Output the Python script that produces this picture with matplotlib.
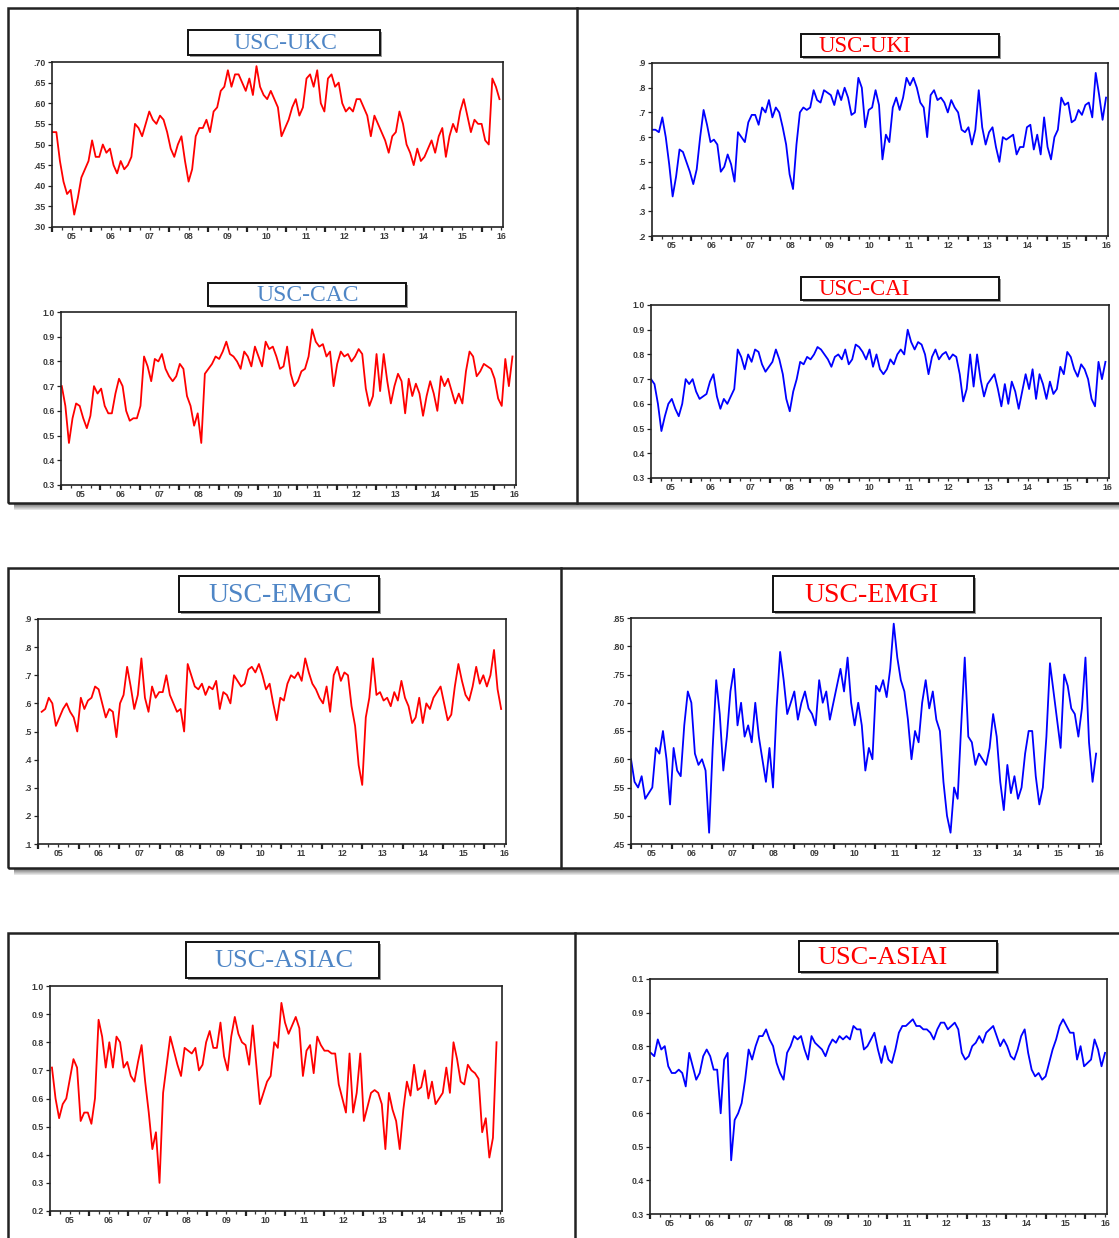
import numpy as np
import matplotlib
matplotlib.use("Agg")
import matplotlib.pyplot as plt
from matplotlib.patches import Rectangle

# 画像サイズ (px)
W, H = 1119, 1238

# ---- 読み取った系列データ (おおよその値) ----
ukc = [.53, .53, .46, .41, .38, .39, .33, .37, .42, .44, .46, .51, .47, .47, .50, .48,
       .49, .45, .43, .46, .44, .45, .47, .55, .54, .52, .55, .58, .56, .55, .57, .56,
       .53, .49, .47, .50, .52, .46, .41, .44, .52, .54, .54, .56, .53, .58, .59, .63,
       .64, .68, .64, .67, .67, .65, .63, .66, .62, .69, .64, .62, .61, .63, .61, .59,
       .52, .54, .56, .59, .61, .57, .59, .66, .67, .64, .68, .60, .58, .66, .67, .64,
       .65, .60, .58, .59, .58, .61, .61, .59, .57, .52, .57, .55, .53, .51, .48, .52,
       .53, .58, .55, .50, .48, .45, .49, .46, .47, .49, .51, .48, .52, .54, .47, .52,
       .55, .53, .58, .61, .57, .53, .56, .55, .55, .51, .50, .66, .64, .61]

uki = [.63, .63, .62, .68, .60, .49, .36, .44, .55, .54, .50, .46, .41, .47, .60, .71,
       .65, .58, .59, .57, .46, .48, .53, .49, .42, .62, .60, .58, .66, .69, .69, .65,
       .72, .70, .75, .68, .72, .70, .64, .57, .45, .39, .57, .70, .72, .71, .72, .79,
       .75, .74, .79, .78, .77, .73, .79, .75, .80, .76, .69, .70, .84, .80, .64, .71,
       .72, .79, .73, .51, .61, .58, .72, .76, .71, .76, .84, .81, .84, .80, .74, .72,
       .60, .77, .79, .75, .76, .74, .70, .75, .72, .70, .63, .62, .64, .57, .63, .79,
       .64, .57, .62, .64, .56, .50, .60, .59, .60, .61, .53, .56, .56, .64, .65, .55,
       .61, .53, .68, .56, .51, .60, .63, .76, .73, .74, .66, .67, .71, .69, .73, .74,
       .68, .86, .77, .67, .76]

cac = [.70, .62, .47, .57, .63, .62, .57, .53, .58, .70, .67, .69, .62, .59, .59, .67,
       .73, .70, .60, .56, .57, .57, .62, .82, .78, .72, .81, .80, .83, .77, .74, .72,
       .74, .79, .77, .66, .62, .54, .59, .47, .75, .77, .79, .82, .81, .84, .88, .83,
       .82, .80, .77, .84, .82, .78, .86, .82, .78, .88, .85, .86, .82, .77, .78, .86,
       .75, .70, .72, .76, .77, .82, .93, .88, .86, .87, .82, .84, .70, .79, .84, .82,
       .83, .80, .82, .85, .83, .69, .62, .66, .83, .68, .83, .72, .63, .70, .75, .72,
       .59, .73, .66, .71, .67, .58, .66, .72, .67, .60, .74, .70, .73, .68, .63, .67,
       .63, .76, .84, .82, .74, .76, .79, .78, .77, .73, .65, .62, .81, .70, .82]

cai = [.70, .68, .60, .49, .55, .60, .62, .58, .55, .60, .70, .68, .70, .65, .62, .63,
       .64, .69, .72, .63, .58, .62, .60, .63, .66, .82, .79, .74, .80, .77, .82, .81,
       .76, .73, .75, .77, .82, .78, .72, .62, .57, .65, .70, .77, .76, .79, .78, .80,
       .83, .82, .80, .78, .75, .79, .80, .78, .82, .76, .78, .84, .83, .81, .78, .82,
       .75, .80, .74, .72, .74, .78, .76, .80, .82, .80, .90, .85, .82, .85, .84, .80,
       .72, .79, .82, .78, .80, .81, .78, .80, .79, .72, .61, .66, .80, .67, .80, .70,
       .63, .68, .70, .72, .66, .59, .68, .60, .69, .65, .58, .65, .72, .66, .74, .62,
       .72, .68, .62, .69, .64, .66, .75, .72, .81, .79, .74, .71, .76, .74, .70, .62,
       .59, .77, .70, .77]

emgc = [.57, .58, .62, .60, .52, .55, .58, .60, .57, .55, .50, .62, .58, .61, .62, .66,
        .65, .60, .55, .58, .57, .48, .60, .63, .73, .66, .58, .63, .76, .62, .57, .66,
        .62, .64, .64, .70, .63, .60, .57, .58, .50, .74, .70, .66, .65, .67, .63, .66,
        .65, .68, .58, .64, .63, .60, .70, .68, .66, .67, .72, .73, .71, .74, .70, .65,
        .67, .60, .54, .62, .61, .67, .70, .69, .71, .68, .76, .71, .67, .65, .62, .60,
        .66, .57, .70, .73, .68, .71, .70, .59, .52, .38, .31, .55, .62, .76, .63, .64,
        .61, .62, .59, .64, .61, .68, .62, .59, .53, .55, .62, .53, .60, .58, .62, .64,
        .66, .60, .54, .56, .66, .74, .68, .63, .61, .66, .73, .67, .70, .66, .70, .79,
        .65, .58]

emgi = [.60, .56, .55, .57, .53, .54, .55, .62, .61, .65, .60, .52, .62, .58, .57, .66,
        .72, .70, .61, .59, .60, .58, .47, .62, .74, .68, .58, .64, .72, .76, .66, .70,
        .64, .66, .63, .70, .64, .60, .56, .62, .55, .69, .79, .74, .68, .70, .72, .67,
        .70, .72, .69, .68, .66, .74, .70, .72, .67, .70, .73, .76, .72, .78, .70, .66,
        .70, .66, .58, .62, .60, .73, .72, .74, .71, .76, .84, .78, .74, .72, .67, .60,
        .65, .63, .70, .74, .69, .72, .67, .65, .56, .50, .47, .55, .53, .66, .78, .64,
        .63, .59, .61, .60, .59, .62, .68, .64, .56, .51, .59, .54, .57, .53, .55, .61,
        .65, .65, .57, .52, .55, .64, .77, .72, .67, .62, .75, .73, .69, .68, .64, .69,
        .78, .63, .56, .61]

asiac = [.71, .60, .53, .58, .60, .67, .74, .71, .52, .55, .55, .51, .60, .88, .82, .71,
         .80, .71, .82, .80, .71, .73, .68, .66, .73, .79, .66, .55, .42, .48, .30, .62,
         .72, .82, .77, .72, .68, .78, .77, .76, .78, .70, .72, .80, .84, .78, .78, .87,
         .75, .70, .82, .89, .83, .80, .79, .72, .86, .72, .58, .62, .66, .68, .80, .78,
         .94, .87, .83, .86, .89, .85, .68, .77, .79, .69, .82, .79, .77, .77, .76, .76,
         .65, .60, .55, .76, .55, .62, .76, .52, .57, .62, .63, .62, .58, .42, .62, .56,
         .52, .42, .56, .66, .61, .72, .63, .64, .70, .60, .66, .58, .60, .62, .71, .62,
         .80, .74, .66, .65, .72, .70, .69, .67, .48, .53, .39, .46, .80]

asiai = [.78, .77, .82, .79, .80, .74, .72, .72, .73, .72, .68, .78, .74, .70, .72, .77,
         .79, .77, .73, .73, .60, .76, .78, .46, .58, .60, .63, .70, .79, .76, .80, .83,
         .83, .85, .82, .80, .75, .72, .70, .78, .80, .83, .82, .83, .79, .76, .83, .81,
         .80, .79, .77, .80, .82, .81, .83, .82, .83, .82, .86, .85, .85, .79, .80, .82,
         .84, .79, .75, .80, .76, .75, .79, .84, .86, .86, .87, .88, .86, .86, .85, .85,
         .84, .82, .85, .87, .87, .85, .86, .87, .85, .78, .76, .77, .80, .81, .83, .81,
         .84, .85, .86, .83, .80, .82, .80, .77, .76, .79, .83, .85, .78, .73, .71, .72,
         .70, .71, .75, .79, .82, .86, .88, .86, .84, .84, .76, .80, .74, .75, .76, .82,
         .79, .74, .78]

# 年ラベル
years = list(range(2005, 2017))
year_labels = ['05', '06', '07', '08', '09', '10', '11', '12', '13', '14', '15', '16']
XMIN, XMAX = 2005.0, 2016.55

# 縦軸の目盛り
ukc_ticks = [.30, .35, .40, .45, .50, .55, .60, .65, .70]
ukc_labels = ['.30', '.35', '.40', '.45', '.50', '.55', '.60', '.65', '.70']
uki_ticks = [.2, .3, .4, .5, .6, .7, .8, .9]
uki_labels = ['.2', '.3', '.4', '.5', '.6', '.7', '.8', '.9']
ca_ticks = [.3, .4, .5, .6, .7, .8, .9, 1.0]
ca_labels = ['0.3', '0.4', '0.5', '0.6', '0.7', '0.8', '0.9', '1.0']
emgc_ticks = [.1, .2, .3, .4, .5, .6, .7, .8, .9]
emgc_labels = ['.1', '.2', '.3', '.4', '.5', '.6', '.7', '.8', '.9']
emgi_ticks = [.45, .50, .55, .60, .65, .70, .75, .80, .85]
emgi_labels = ['.45', '.50', '.55', '.60', '.65', '.70', '.75', '.80', '.85']
asiac_ticks = [.2, .3, .4, .5, .6, .7, .8, .9, 1.0]
asiac_labels = ['0.2', '0.3', '0.4', '0.5', '0.6', '0.7', '0.8', '0.9', '1.0']
asiai_ticks = [.3, .4, .5, .6, .7, .8, .9, 1.0]
asiai_labels = ['0.3', '0.4', '0.5', '0.6', '0.7', '0.8', '0.9', '0.1']

RED = '#ff0000'
BLUE = '#0000ff'
TBLUE = '#4f86c6'

# (系列, 期間, 縦範囲, 目盛, ラベル, 線色, タイトル, タイトル色, 軸px, 箱px, タイトル位置, 揃え, 文字サイズ)
panels = [
    (ukc, (2005.02, 2016.46), (.30, .70), ukc_ticks, ukc_labels, RED, 'USC-UKC', TBLUE,
     (52, 62, 503, 227), (188, 30, 380, 55), 285, 'center', 17),
    (uki, (2005.0, 2016.5), (.2, .9), uki_ticks, uki_labels, BLUE, 'USC-UKI', RED,
     (652, 63, 1108, 236), (801, 34, 999, 57), 819, 'left', 16.5),
    (cac, (2005.02, 2016.46), (.3, 1.0), ca_ticks, ca_labels, RED, 'USC-CAC', TBLUE,
     (61, 312, 516, 485), (208, 283, 406, 306), 308, 'center', 17),
    (cai, (2005.0, 2016.46), (.3, 1.0), ca_ticks, ca_labels, BLUE, 'USC-CAI', RED,
     (651, 305, 1109, 478), (801, 277, 999, 300), 819, 'left', 16.5),
    (emgc, (2005.09, 2016.43), (.1, .9), emgc_ticks, emgc_labels, RED, 'USC-EMGC', TBLUE,
     (38, 619, 506, 844), (179, 576, 379, 612), 280, 'center', 20),
    (emgi, (2005.0, 2016.43), (.45, .85), emgi_ticks, emgi_labels, BLUE, 'USC-EMGI', RED,
     (631, 618, 1101, 844), (773, 576, 974, 612), 804, 'left', 20),
    (asiac, (2005.05, 2016.41), (.2, 1.0), asiac_ticks, asiac_labels, RED, 'USC-ASIAC', TBLUE,
     (50, 986, 502, 1211), (186, 942, 379, 978), 284, 'center', 19),
    (asiai, (2005.02, 2016.5), (.3, 1.0), asiai_ticks, asiai_labels, BLUE, 'USC-ASIAI', RED,
     (650, 979, 1107, 1214), (799, 941, 997, 972), 817, 'left', 19),
]

fig = plt.figure(figsize=(W / 100, H / 100), dpi=100)
fig.patch.set_facecolor('white')


def frac(x0, y0, x1, y1):
    # px座標(左上原点) -> figure座標
    return [x0 / W, 1 - y1 / H, (x1 - x0) / W, (y1 - y0) / H]


def add_rect(x0, y0, x1, y1, **kw):
    l, b, w, h = frac(x0, y0, x1, y1)
    r = Rectangle((l, b), w, h, transform=fig.transFigure, **kw)
    fig.add_artist(r)
    return r


def add_vline(x, y0, y1, lw=1.8, color='#222222'):
    fig.add_artist(plt.Line2D([x / W, x / W], [1 - y0 / H, 1 - y1 / H],
                              transform=fig.transFigure, lw=lw, color=color))


# 外枠ブロックと影
blocks = [(8, 8, 1125, 503, 577), (8, 568, 1125, 868, 561), (8, 933, 1125, 1250, 575)]
for x0, y0, x1, y1, xd in blocks:
    if y1 < H:
        for i in range(7):
            g = 0.42 + i * 0.08
            add_rect(14, y1 + i, W, y1 + i + 1, facecolor=(g, g, g), edgecolor='none', lw=0)
    add_rect(x0, y0, x1, y1, facecolor='none', edgecolor='#222222', lw=1.8)
    add_vline(xd, y0, min(y1, H))

for (vals, span, ylim, yt, ytl, col, title, tcol, arect, brect, tx, ha, tsize) in panels:
    ax = fig.add_axes(frac(*arect))
    t = np.linspace(span[0], span[1], len(vals))
    ax.plot(t, vals, color=col, lw=1.3)
    ax.set_xlim(XMIN, XMAX)
    ax.set_ylim(*ylim)
    ax.set_yticks(yt)
    ax.set_yticklabels(ytl)
    ax.set_xticks(years)
    ax.set_xticklabels([])
    ax.set_xticks(np.arange(2005.25, 2016.55, 0.25), minor=True)
    ax.tick_params(axis='y', direction='out', length=3, width=0.9, pad=1.5,
                   labelsize=6.3, labelcolor='#3a3a3a', color='#222222')
    ax.tick_params(axis='x', which='major', direction='out', length=3.5, width=1.6, color='#222222')
    ax.tick_params(axis='x', which='minor', direction='out', length=2, width=0.9, color='#333333')
    for lab in ax.get_yticklabels():
        lab.set_fontfamily('Liberation Sans')
        lab.set_fontweight('bold')
    for yr, lab in zip(years, year_labels):
        ax.annotate(lab, xy=(yr + 0.5, 0), xycoords=ax.get_xaxis_transform(),
                    xytext=(0, -3.5), textcoords='offset points', ha='center', va='top',
                    fontsize=6.3, color='#3a3a3a', family='Liberation Sans', fontweight='bold')
    for sp in ax.spines.values():
        sp.set_color('#222222')
        sp.set_linewidth(1.2)

    # タイトル枠
    bx0, by0, bx1, by1 = brect
    add_rect(bx0 + 2, by0 + 2, bx1 + 2, by1 + 2, facecolor='#9a9a9a', edgecolor='none', lw=0)
    add_rect(bx0, by0, bx1, by1, facecolor='white', edgecolor='#111111', lw=1.4)
    fig.text(tx / W, 1 - ((by0 + by1) / 2 + 1) / H, title, color=tcol, ha=ha, va='center',
             fontsize=tsize, family='Liberation Serif')

fig.savefig('out.png', dpi=100)
